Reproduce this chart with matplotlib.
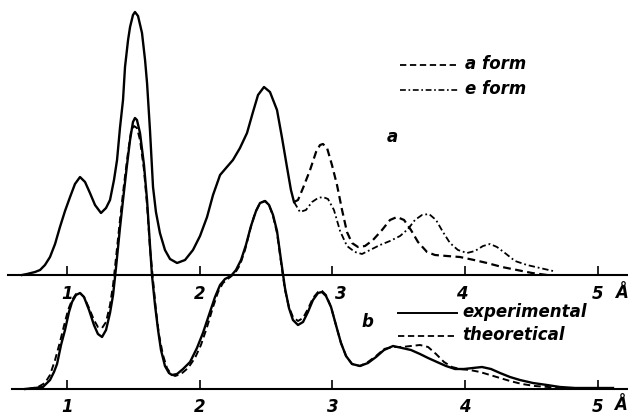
import matplotlib.pyplot as plt

# curve a (upper): common part, then a form / e form branches
r_a = [0.661, 0.699, 0.759, 0.797, 0.834, 0.872, 0.910, 0.947, 0.985, 1.023, 1.060, 1.098,
       1.136, 1.173, 1.211, 1.256, 1.294, 1.324, 1.354, 1.377, 1.399, 1.422, 1.437, 1.460,
       1.475, 1.497, 1.512, 1.535, 1.565, 1.588, 1.603, 1.625, 1.648, 1.670, 1.700, 1.738,
       1.776, 1.829, 1.889, 1.949, 2.002, 2.055, 2.100, 2.153, 2.198, 2.250, 2.303, 2.356,
       2.401, 2.439, 2.484, 2.529, 2.582, 2.620, 2.657, 2.687, 2.710]
h_a = [0, 1, 3, 5, 10, 18, 31, 48, 64, 78, 91, 98,
       93, 82, 70, 62, 67, 75, 95, 115, 147, 175, 208, 235,
       248, 260, 263, 259, 242, 215, 192, 145, 88, 63, 42, 25,
       16, 12, 15, 25, 39, 58, 80, 100, 107, 115, 127, 142,
       163, 180, 188, 183, 165, 137, 108, 85, 73]

r_aform = [2.710, 2.740, 2.778, 2.831, 2.876, 2.906, 2.928, 2.959, 2.996, 3.034, 3.072, 3.109,
           3.147, 3.192, 3.245, 3.305, 3.373, 3.433, 3.486, 3.539, 3.591, 3.644, 3.712, 3.772,
           3.862, 3.960, 4.066, 4.164, 4.277, 4.390, 4.503, 4.616]
h_aform = [73, 75, 87, 105, 123, 130, 131, 127, 110, 90, 65, 43,
           32, 28, 29, 35, 45, 55, 58, 55, 45, 33, 23, 20,
           19, 18, 15, 12, 8, 5, 2, 0]

r_eform = [2.710, 2.755, 2.800, 2.846, 2.891, 2.928, 2.966, 3.011, 3.057, 3.109, 3.169, 3.222,
           3.283, 3.358, 3.433, 3.509, 3.569, 3.621, 3.674, 3.727, 3.780, 3.832, 3.885, 3.945,
           4.013, 4.073, 4.134, 4.187, 4.239, 4.299, 4.375, 4.465, 4.563, 4.661]
h_eform = [73, 63, 65, 73, 77, 78, 76, 65, 44, 29, 23, 21,
           25, 30, 34, 39, 46, 55, 60, 61, 55, 43, 32, 25,
           22, 24, 29, 31, 28, 22, 14, 10, 7, 4]

# curve b (lower): experimental and theoretical
r_exp = [0.684, 0.759, 0.819, 0.872, 0.902, 0.925, 0.955, 0.985, 1.015, 1.038, 1.068, 1.098,
         1.128, 1.166, 1.203, 1.233, 1.264, 1.294, 1.324, 1.347, 1.369, 1.399, 1.422, 1.452,
         1.475, 1.497, 1.512, 1.527, 1.550, 1.580, 1.603, 1.625, 1.640, 1.663, 1.686, 1.708,
         1.738, 1.768, 1.791, 1.829, 1.874, 1.927, 1.979, 2.024, 2.077, 2.115, 2.153, 2.190,
         2.235, 2.273, 2.311, 2.348, 2.386, 2.424, 2.454, 2.492, 2.522, 2.552, 2.582, 2.612,
         2.642, 2.672, 2.702, 2.740, 2.778, 2.815, 2.853, 2.891, 2.921, 2.951, 2.989, 3.026,
         3.064, 3.102, 3.147, 3.207, 3.267, 3.328, 3.388, 3.456, 3.524, 3.591, 3.659, 3.720,
         3.787, 3.855, 3.923, 3.991, 4.058, 4.126, 4.194, 4.262, 4.337, 4.412, 4.510, 4.616,
         4.714, 4.827, 4.977, 5.113]
h_exp = [0, 1, 2, 9, 17, 25, 44, 59, 77, 87, 94, 96,
         92, 79, 64, 55, 52, 59, 76, 94, 121, 161, 189, 224,
         249, 267, 271, 269, 256, 224, 189, 144, 114, 84, 59, 39,
         23, 16, 14, 15, 20, 27, 41, 56, 77, 92, 104, 110,
         113, 119, 129, 144, 163, 178, 186, 188, 184, 174, 158, 129,
         101, 81, 69, 64, 67, 77, 89, 96, 97, 93, 82, 64,
         46, 33, 25, 23, 26, 32, 39, 43, 41, 39, 35, 31,
         27, 23, 20, 20, 21, 22, 20, 16, 12, 9, 6, 4,
         2, 1, 1, 1]

r_theo = [0.706, 0.782, 0.834, 0.872, 0.910, 0.947, 0.977, 1.008, 1.038, 1.068, 1.098, 1.128,
          1.166, 1.203, 1.233, 1.264, 1.294, 1.324, 1.347, 1.369, 1.399, 1.429, 1.460, 1.482,
          1.505, 1.527, 1.550, 1.580, 1.603, 1.625, 1.648, 1.670, 1.693, 1.723, 1.753, 1.783,
          1.814, 1.859, 1.912, 1.964, 2.009, 2.055, 2.100, 2.138, 2.175, 2.220, 2.266, 2.303,
          2.341, 2.379, 2.416, 2.454, 2.492, 2.522, 2.552, 2.582, 2.612, 2.642, 2.672, 2.702,
          2.740, 2.778, 2.815, 2.853, 2.891, 2.921, 2.951, 2.989, 3.026, 3.064, 3.102, 3.147,
          3.207, 3.267, 3.328, 3.388, 3.456, 3.524, 3.591, 3.659, 3.720, 3.780, 3.840, 3.900,
          3.960, 4.035, 4.111, 4.187, 4.262, 4.337, 4.427, 4.525, 4.624, 4.729]
h_theo = [0, 2, 6, 14, 29, 47, 63, 79, 89, 95, 96, 92,
          81, 69, 62, 61, 67, 84, 104, 131, 169, 204, 237, 257,
          263, 261, 249, 219, 184, 141, 109, 79, 54, 34, 21, 15,
          13, 15, 21, 31, 44, 62, 82, 97, 106, 111, 116, 124,
          139, 159, 176, 186, 188, 184, 173, 156, 127, 99, 82, 72,
          68, 71, 80, 91, 97, 98, 94, 82, 64, 46, 33, 25,
          23, 27, 33, 40, 42, 42, 43, 44, 42, 35, 27, 22,
          20, 19, 17, 14, 11, 8, 5, 3, 2, 1]

ticks = [1, 2, 3, 4, 5]
base_a = 140
base_b = 26

fig = plt.figure(figsize=(6.28, 4.15), dpi=100)
ax = fig.add_axes([0, 0, 1, 1])
ax.set_xlim(0.4953, 5.226)
ax.set_ylim(0, 415)
ax.axis('off')

lw = 1.7
dash = (0, (3.5, 2))
dashdot = (0, (3.5, 1.6, 1, 1.6))
rj = dict(solid_joinstyle='round', dash_joinstyle='round', color='black')

ax.plot(r_a, [base_a + h for h in h_a], lw=lw, **rj)
ax.plot(r_aform, [base_a + h for h in h_aform], lw=1.6, ls=dash, **rj)
ax.plot(r_eform, [base_a + h for h in h_eform], lw=1.3, ls=dashdot, **rj)

ax.plot(r_theo, [base_b + h for h in h_theo], lw=1.4, ls=dash, **rj)
ax.plot(r_exp, [base_b + h for h in h_exp], lw=lw, **rj)

# baselines and ticks
ax.plot([0.555, 5.226], [base_a, base_a], color='black', lw=1.5)
ax.plot([0.585, 5.226], [base_b, base_b], color='black', lw=1.5)
ax.vlines(ticks, base_a, base_a + 9, color='black', lw=1.2)
ax.vlines(ticks, base_b, base_b + 9, color='black', lw=1.2)

tf = dict(fontsize=12, fontstyle='italic', fontweight='bold', ha='center', va='center')
top_lab_x = [1.0, 2.0, 3.06, 3.975, 5.0]
for x, t in zip(top_lab_x, ticks):
    ax.text(x, 121, str(t), **tf)
ax.text(5.18, 122, 'Å', **tf)
for t in ticks:
    ax.text(t, 8, str(t), **tf)
ax.text(5.17, 10, 'Å', **tf)

ax.text(3.448, 278, 'a', **tf)
ax.text(3.26, 93, 'b', **tf)

# legends
lf = dict(fontsize=12, fontstyle='italic', fontweight='bold', ha='left', va='center')
ax.plot([3.508, 3.945], [350, 350], color='black', lw=1.3, ls=dash)
ax.text(4.0, 351, 'a form', **lf)
ax.plot([3.508, 3.945], [325, 325], color='black', lw=1.2, ls=dashdot)
ax.text(4.0, 326, 'e form', **lf)

ax.plot([3.493, 3.938], [102, 102], color='black', lw=1.4)
ax.text(3.98, 103, 'experimental', **lf)
ax.plot([3.493, 3.938], [79, 79], color='black', lw=1.3, ls=dash)
ax.text(3.98, 80, 'theoretical', **lf)

fig.savefig('out.png', dpi=100)
